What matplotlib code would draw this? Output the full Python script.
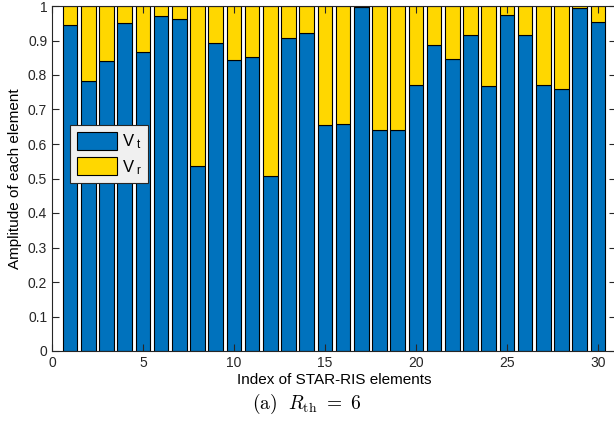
import numpy as np
import matplotlib
matplotlib.use("Agg")
import matplotlib.pyplot as plt

plt.rcParams['font.family'] = ['Liberation Sans', 'DejaVu Sans']
plt.rcParams['mathtext.fontset'] = 'cm'

# element index and transmission amplitude
idx = np.arange(1, 31)
v_t = [0.945, 0.783, 0.842, 0.951, 0.867, 0.972, 0.962, 0.535, 0.894, 0.843,
       0.852, 0.508, 0.906, 0.922, 0.654, 0.658, 0.996, 0.642, 0.642, 0.770,
       0.887, 0.845, 0.916, 0.767, 0.974, 0.917, 0.770, 0.759, 0.994, 0.954]
v_r = [1 - v for v in v_t]

blue = '#0072BD'
yellow = '#FFD700'

fig = plt.figure(figsize=(6.14, 4.28), dpi=100)
ax = fig.add_axes([52 / 614, 77 / 428, 564 / 614, 345 / 428])

ax.bar(idx, v_t, width=0.8, color=blue, edgecolor='black', linewidth=0.8,
       label=r'V$\,_\mathregular{t}$')
ax.bar(idx, v_r, width=0.8, bottom=v_t, color=yellow, edgecolor='black',
       linewidth=0.8, label=r'V$\,_\mathregular{r}$')

ax.set_xlim(0, 31)
ax.set_ylim(0, 1)
ax.set_xticks(np.arange(0, 31, 5))
ax.set_yticks(np.arange(0, 1.01, 0.1))
ax.set_yticklabels(['0', '0.1', '0.2', '0.3', '0.4', '0.5', '0.6', '0.7',
                    '0.8', '0.9', '1'])
ax.tick_params(direction='in', length=5, width=0.8, labelsize=10,
               top=True, right=True, colors='#262626')
for s in ax.spines.values():
    s.set_color('#262626')
    s.set_linewidth(0.8)

ax.set_xlabel('Index of STAR-RIS elements', fontsize=11, labelpad=2)
ax.set_ylabel('Amplitude of each element', fontsize=11, labelpad=4)

leg = ax.legend(loc='upper left', bbox_to_anchor=(18 / 564, 226 / 345),
                fontsize=12, frameon=True, fancybox=False, borderpad=0.4,
                handlelength=2.4, handleheight=1.3, handletextpad=0.3,
                labelspacing=0.35, borderaxespad=0)
leg.get_frame().set_edgecolor('#262626')
leg.get_frame().set_facecolor('#F0F0F0')
leg.get_frame().set_alpha(1)
leg.get_frame().set_linewidth(0.8)

fig.text(0.5, 24 / 428, r'$\mathrm{(a)}\ \ R_{\mathrm{th}}\ =\ 6$',
         ha='center', va='center', fontsize=14)

fig.savefig('out.png', dpi=100)
